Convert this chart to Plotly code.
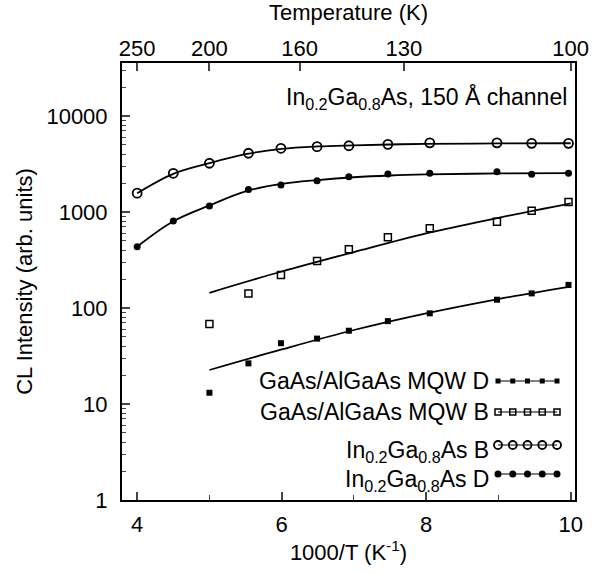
import numpy as np
import plotly.graph_objects as go

# ---- data ----
x_in = [4.0, 4.5, 5.0, 5.54, 5.99, 6.49, 6.93, 7.47, 8.05, 8.98, 9.46, 9.97]
ingaas_B = [1570, 2530, 3220, 4090, 4610, 4790, 4900, 5070, 5250, 5250, 5190, 5190]
ingaas_D = [435, 806, 1155, 1720, 1910, 2120, 2330, 2490, 2530, 2630, 2470, 2530]

x_mqw = [5.0, 5.54, 5.99, 6.49, 6.93, 7.47, 8.05, 8.98, 9.46, 9.97]
mqw_B = [68, 142, 221, 309, 410, 545, 676, 792, 1032, 1271]
mqw_D = [13.1, 26.5, 43, 48, 58, 73, 88, 122, 142, 174]

x_fit_in = [4, 4.5, 5, 5.5, 6, 6.5, 7, 7.5, 8, 9, 10]
fit_ingaas_B = [1570, 2500, 3230, 4000, 4550, 4820, 4950, 5050, 5120, 5180, 5200]
fit_ingaas_D = [435, 800, 1170, 1640, 1960, 2150, 2300, 2400, 2460, 2520, 2540]
x_fit_mqw = [5, 6, 7, 8, 9, 10]
fit_mqw_B = [144, 240, 383, 600, 870, 1230]
fit_mqw_D = [22.6, 37, 59, 88, 124, 167]

temp_labels = [250, 200, 160, 130, 100]
bottom_ticks = [4, 6, 8, 10]

legend_names = ["GaAs/AlGaAs MQW D", "GaAs/AlGaAs MQW B",
                "In<sub>0.2</sub>Ga<sub>0.8</sub>As B", "In<sub>0.2</sub>Ga<sub>0.8</sub>As D"]

FONT = "Liberation Sans, Arial, Helvetica, sans-serif"
FS = 22
FS_TXT = 23
xr = [3.79, 10.06]
plot_top, plot_bot, plot_l, plot_r = 63, 500, 122, 575
yr = [0, (plot_bot - plot_top) / 96.0]

fig = go.Figure()

line = dict(color="black", width=1.8)
for xf, yf in [(x_fit_in, fit_ingaas_B), (x_fit_in, fit_ingaas_D),
               (x_fit_mqw, fit_mqw_B), (x_fit_mqw, fit_mqw_D)]:
    fig.add_trace(go.Scatter(x=xf, y=yf, mode="lines", line=dict(line, shape="spline"),
                             showlegend=False))

m_open_c = dict(symbol="circle-open", size=9, color="black", line=dict(width=1.8))
m_fill_c = dict(symbol="circle", size=7, color="black")
m_open_s = dict(symbol="square-open", size=7, color="black", line=dict(width=1.5))
m_fill_s = dict(symbol="square", size=6, color="black")

fig.add_trace(go.Scatter(x=x_in, y=ingaas_B, mode="markers", marker=m_open_c, showlegend=False))
fig.add_trace(go.Scatter(x=x_in, y=ingaas_D, mode="markers", marker=m_fill_c, showlegend=False))
fig.add_trace(go.Scatter(x=x_mqw, y=mqw_B, mode="markers", marker=m_open_s, showlegend=False))
fig.add_trace(go.Scatter(x=x_mqw, y=mqw_D, mode="markers", marker=m_fill_s, showlegend=False))

# hand-drawn style legend (bottom right)
leg_y_px = [381, 412, 445, 474]
leg_text_shift = [0, 0, -6, -6]
leg_markers = [dict(m_fill_s, size=5), dict(m_open_s, size=6), dict(m_open_c, size=8), dict(m_fill_c, size=7)]
def px_to_logy(py):
    return yr[0] + (plot_bot - py) / (plot_bot - plot_top) * (yr[1] - yr[0])
def px_to_x(px):
    return xr[0] + (px - plot_l) / (plot_r - plot_l) * (xr[1] - xr[0])
lx = np.linspace(px_to_x(498), px_to_x(557), 5)
for name, py, mk, sh in zip(legend_names, leg_y_px, leg_markers, leg_text_shift):
    ly = px_to_logy(py)
    fig.add_trace(go.Scatter(x=lx, y=[10 ** ly] * len(lx), mode="lines+markers",
                             line=dict(color="black", width=1.2), marker=mk, showlegend=False))
    fig.add_annotation(x=px_to_x(491), y=ly, xref="x", yref="y", text=name,
                       showarrow=False, xanchor="right", yanchor="middle", yshift=sh,
                       font=dict(family=FONT, size=FS_TXT, color="black"))

# invisible trace for top axis
fig.add_trace(go.Scatter(x=xr, y=[10, 10], xaxis="x2", mode="lines",
                         line=dict(width=0), opacity=0, showlegend=False, hoverinfo="skip"))

fig.add_annotation(x=px_to_x(569), y=px_to_logy(98), xref="x", yref="y", xanchor="right",
                   yanchor="middle",
                   text="In<sub>0.2</sub>Ga<sub>0.8</sub>As, 150 Å channel", showarrow=False,
                   font=dict(family=FONT, size=FS_TXT, color="black"))

fig.update_layout(
    width=600, height=574,
    margin=dict(l=plot_l, r=600 - plot_r, t=plot_top, b=574 - plot_bot),
    paper_bgcolor="white", plot_bgcolor="white",
    font=dict(family=FONT, size=FS, color="black"),
    showlegend=False,
    xaxis=dict(range=xr, tickvals=bottom_ticks, ticks="inside", ticklen=8, tickwidth=1.5,
               showline=True, linecolor="black", linewidth=2, mirror=True, showgrid=False,
               zeroline=False, tickfont=dict(size=FS), ticklabelstandoff=4, automargin=False,
               minor=dict(tickvals=[5, 7, 9], ticks="inside", ticklen=5, tickwidth=1.2, showgrid=False),
               title=dict(text="1000/T (K<sup>-1</sup>)", standoff=8, font=dict(size=FS))),
    xaxis2=dict(range=xr, overlaying="x", side="top", anchor="y",
                tickvals=[1000 / t for t in temp_labels], ticktext=[str(t) for t in temp_labels],
                ticks="inside", ticklen=8, tickwidth=1.5, showline=False, showgrid=False,
                zeroline=False, tickfont=dict(size=FS), ticklabelstandoff=2, automargin=False,
                title=dict(text="Temperature (K)", standoff=8, font=dict(size=FS))),
    yaxis=dict(type="log", range=yr, tickvals=[1, 10, 100, 1000, 10000],
               ticktext=["1", "10", "100", "1000", "10000"],
               ticks="inside", ticklen=8, tickwidth=1.5, ticklabelstandoff=8, automargin=False,
               showline=True, linecolor="black", linewidth=2, mirror=True, showgrid=False,
               zeroline=False, tickfont=dict(size=FS),
               minor=dict(ticks="inside", ticklen=4, tickwidth=1, dtick="D1", showgrid=False),
               title=dict(text="CL Intensity (arb. units)", standoff=8, font=dict(size=FS))),
)

fig.write_html("out.html")
